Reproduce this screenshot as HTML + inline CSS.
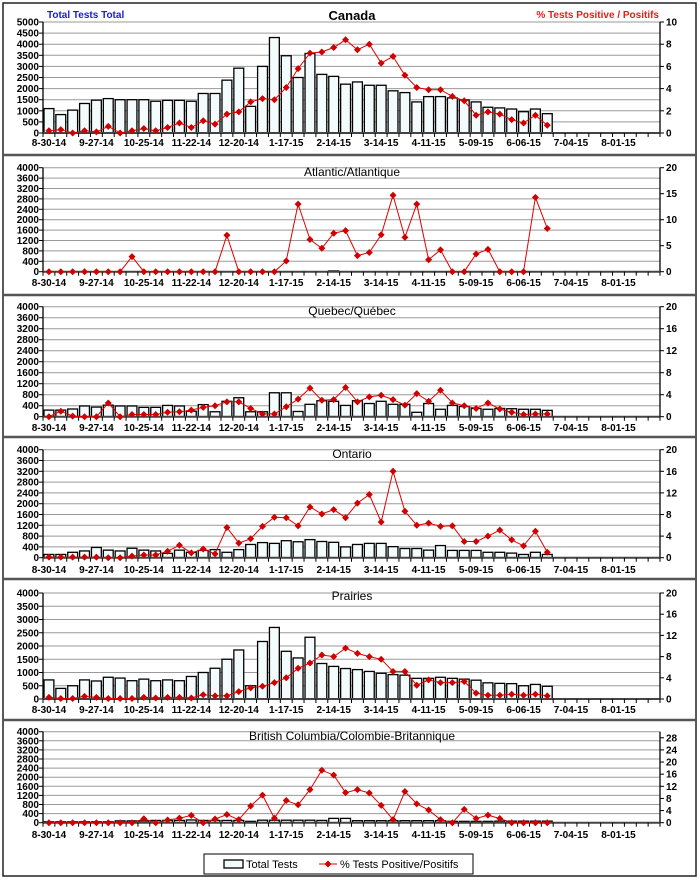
<!DOCTYPE html>
<html><head><meta charset="utf-8"><style>
html,body{margin:0;padding:0;background:#fff;}
svg{display:block;font-family:"Liberation Sans",Arial,sans-serif;}
</style></head><body>
<svg id="s" width="700" height="880" xmlns="http://www.w3.org/2000/svg"></svg>
<script>
var S=document.getElementById('s');var h='';
h+='<rect x="3" y="3" width="693" height="873" fill="#fff" stroke="#222" stroke-width="1.5"/>';
[155,295,437,579,720].forEach(function(y){h+='<line x1="3" x2="696" y1="'+y+'" y2="'+y+'" stroke="#555" stroke-width="2.5"/>';});
var X0=43,X1=660,W=(X1-X0)/52;
function cx(i){return X0+W*(i+0.5);}
var P=[
{t:22,b:133,lm:5000,ls:500,rm:10,rs:2,rt:10,title:'Canada',ty:20,fs:13,ly:146,
bars:[1100,830,1030,1330,1480,1550,1500,1500,1500,1430,1470,1470,1430,1780,1780,2380,2920,1200,3000,4300,3480,2500,3580,2640,2550,2200,2300,2150,2150,1900,1820,1400,1640,1640,1580,1490,1400,1160,1130,1080,960,1080,870],
line:[0.2,0.3,0,0.2,0.1,0.6,0,0.2,0.4,0.2,0.5,0.9,0.5,1.1,0.8,1.7,1.9,2.8,3.1,3.0,4.1,5.8,7.2,7.3,7.7,8.4,7.5,8.0,6.3,6.9,5.2,4.1,3.9,3.9,3.3,2.9,1.6,1.9,1.7,1.2,0.9,1.6,0.7]},
{t:167.7,b:271.7,lm:4000,ls:400,rm:20,rs:5,rt:20,title:'Atlantic/Atlantique',ty:176,fs:12,ly:286,
bars:[0,0,0,0,0,0,0,0,0,0,0,0,0,0,0,0,0,0,0,0,0,0,0,0,30,0,0,0,0,0,0,0,0,0,0,0,0,0,0,0,0,0,0],
line:[0,0,0,0,0,0,0,2.9,0,0,0,0,0,0,0,7.0,0,0,0,0,2.05,13.0,6.2,4.5,7.4,7.9,3.1,3.7,7.1,14.7,6.6,13.0,2.3,4.2,0,0,3.4,4.3,0,0,0,14.3,8.3]},
{t:306.7,b:416.7,lm:4000,ls:400,rm:20,rs:4,rt:20,title:'Quebec/Québec',ty:315,fs:12,ly:431,
bars:[240,240,280,390,350,420,390,390,340,340,410,390,200,440,180,560,690,180,180,870,870,190,450,580,560,410,580,480,560,450,450,160,480,270,410,370,300,270,300,290,270,270,230],
line:[0,1,0.1,0,0,2.5,0,0.4,0.4,0.4,0.8,0.9,1.2,1.7,2.0,2.7,2.7,1.5,0.5,0.5,1.8,3.2,5.2,3.0,3.1,5.3,2.7,3.6,3.9,3.1,2.1,4.2,2.8,4.8,2.5,2.0,1.5,2.5,1.4,0.8,0.4,0.5,0.5]},
{t:449.7,b:557.7,lm:4000,ls:400,rm:20,rs:4,rt:20,title:'Ontario',ty:458,fs:12,ly:573,
bars:[120,120,200,250,380,280,250,350,280,250,160,280,200,270,300,200,300,490,560,530,630,590,670,600,570,400,490,530,530,410,340,340,280,450,270,270,270,200,200,170,120,200,120],
line:[0.1,0.1,0.1,0.1,0.1,0,0,0.3,0.5,0.5,1.2,2.3,0.9,1.6,0.7,5.6,2.7,3.5,5.8,7.5,7.4,5.9,9.4,8.1,8.9,7.4,10.1,11.7,6.6,16.0,8.6,6.0,6.4,5.8,5.9,3.0,3.0,4.0,5.1,3.3,2.2,4.9,1.0]},
{t:593,b:699,lm:4000,ls:500,rm:20,rs:4,rt:20,title:'Prairies',ty:600,fs:12,ly:713,
bars:[720,400,500,720,680,820,790,690,750,690,720,690,850,1000,1160,1500,1850,500,2170,2700,1800,1550,2330,1340,1230,1150,1110,1040,970,920,900,780,780,820,780,750,710,610,590,580,500,550,480],
line:[0.3,0.1,0.1,0.5,0.3,0.1,0.1,0.1,0.3,0.2,0.3,0.3,0.2,0.8,0.6,0.6,1.4,2.1,2.4,3.1,4.0,5.8,6.8,8.3,8.0,9.6,8.6,8.0,7.5,5.2,5.2,2.6,3.6,3.1,3.1,3.3,1.1,0.7,0.7,0.9,0.7,0.9,0.6]},
{t:731.7,b:822.7,lm:4000,ls:400,rm:30,rs:4,rt:28,title:'British Columbia/Colombie-Britannique',ty:740,fs:12,ly:838,
bars:[40,40,40,40,40,40,80,80,80,100,100,100,120,100,100,100,100,60,110,110,110,110,110,100,190,190,90,90,90,90,90,90,90,90,60,60,60,60,70,70,70,70,70],
line:[0,0,0,0,0,0,0,0,1.3,0,0.9,1.5,2.4,0,1.2,2.7,1.0,5.5,9.1,1.5,7.3,5.9,10.9,17.3,15.7,9.9,10.9,9.8,5.7,1.0,10.3,6.2,4.2,1.0,0,4.4,1.4,2.5,1.4,0,0,0,0]}
];
var labs=['8-30-14','9-27-14','10-25-14','11-22-14','12-20-14','1-17-15','2-14-15','3-14-15','4-11-15','5-09-15','6-06-15','7-04-15','8-01-15'];
P.forEach(function(p){
  var H=p.b-p.t;
  // grid + left labels
  for(var v=0;v<=p.lm+0.1;v+=p.ls){var y=p.b-v/p.lm*H;
    if(v>0)h+='<line x1="'+X0+'" x2="'+X1+'" y1="'+y+'" y2="'+y+'" stroke="#9a9a9a" stroke-width="1"/>';
    h+='<line x1="'+(X0-4)+'" x2="'+X0+'" y1="'+y+'" y2="'+y+'" stroke="#000"/>';
    h+='<text x="'+(X0-4)+'" y="'+(y+3.5)+'" font-size="10" font-weight="bold" text-anchor="end">'+v+'</text>';}
  for(var r=0;r<=p.rt;r+=p.rs){var y=p.b-r/p.rm*H;
    h+='<line x1="'+X1+'" x2="'+(X1+4)+'" y1="'+y+'" y2="'+y+'" stroke="#000"/>';
    h+='<text x="'+(X1+6)+'" y="'+(y+3.5)+'" font-size="10" font-weight="bold">'+r+'</text>';}
  // bars
  p.bars.forEach(function(v,i){if(v<=0)return;var bh=v/p.lm*H;var x=X0+W*i+1;
    h+='<rect x="'+x+'" y="'+(p.b-bh)+'" width="'+(W-2)+'" height="'+bh+'" fill="#f4fbfd" stroke="#000" stroke-width="1.3"/>';});
  // axes
  h+='<line x1="'+X0+'" x2="'+X0+'" y1="'+p.t+'" y2="'+p.b+'" stroke="#000" stroke-width="1.3"/>';
  h+='<line x1="'+X1+'" x2="'+X1+'" y1="'+p.t+'" y2="'+p.b+'" stroke="#000" stroke-width="1.3"/>';
  h+='<line x1="'+X0+'" x2="'+X1+'" y1="'+p.b+'" y2="'+p.b+'" stroke="#444" stroke-width="2"/>';
  for(var i=0;i<=52;i++){var x=X0+W*i;h+='<line x1="'+x+'" x2="'+x+'" y1="'+p.b+'" y2="'+(p.b+4)+'" stroke="#000"/>';}
  // line
  var pts=p.line.map(function(v,i){return cx(i).toFixed(1)+','+(p.b-v/p.rm*H).toFixed(1);});
  h+='<polyline points="'+pts.join(' ')+'" fill="none" stroke="#e00000" stroke-width="1"/>';
  p.line.forEach(function(v,i){var x=cx(i),y=p.b-v/p.rm*H;
    h+='<path d="M'+x+' '+(y-3.5)+'L'+(x+3.5)+' '+y+'L'+x+' '+(y+3.5)+'L'+(x-3.5)+' '+y+'Z" fill="#d00000"/>';});
  labs.forEach(function(l,k){h+='<text x="'+cx(k*4)+'" y="'+p.ly+'" font-size="10" font-weight="bold" text-anchor="middle">'+l+'</text>';});
  h+='<text x="352" y="'+p.ty+'" font-size="'+p.fs+'" text-anchor="middle"'+(p.fs==13?' font-weight="bold"':'')+'>'+p.title+'</text>';
});
h+='<text x="47" y="18" font-size="10" font-weight="bold" fill="#1a1ae0">Total Tests Total</text>';
h+='<text x="659" y="18" font-size="10" font-weight="bold" fill="#e02020" text-anchor="end">% Tests Positive / Positifs</text>';
// legend
h+='<rect x="204" y="854" width="269" height="20" fill="#fff" stroke="#000"/>';
h+='<rect x="224" y="860" width="19" height="8" fill="#f4fbfd" stroke="#000" stroke-width="1.3"/>';
h+='<text x="246" y="868" font-size="11">Total Tests</text>';
h+='<line x1="319" x2="337" y1="864" y2="864" stroke="#e00000"/><path d="M328 860.5L331.5 864L328 867.5L324.5 864Z" fill="#d00000"/>';
h+='<text x="340" y="868" font-size="11">% Tests Positive/Positifs</text>';
S.innerHTML=h;
</script>
</body></html>
